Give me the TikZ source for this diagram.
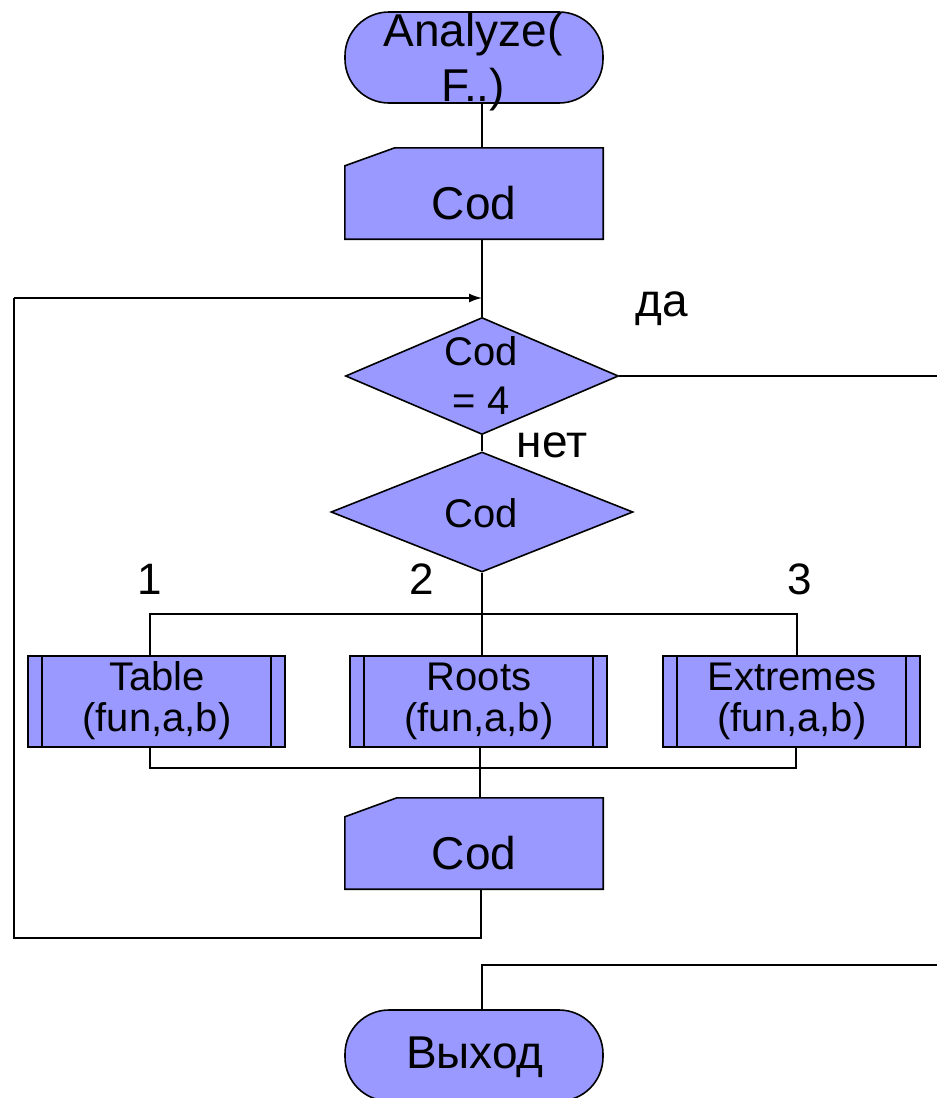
\documentclass[tikz,border=0pt]{standalone}
\usepackage{fontspec}
\setmainfont{Liberation Sans}
\usetikzlibrary{shapes.geometric,calc,arrows.meta}
\definecolor{boxfill}{RGB}{153,153,255}
\begin{document}
\begin{tikzpicture}[x=1pt,y=-1pt,
  shp/.style={draw=black,fill=boxfill,line width=1.6pt,inner sep=0pt},
  conn/.style={draw=black,line width=1.6pt},
  edge/.style={draw=black,line width=1.6pt},
  lbl/.style={inner sep=0pt,align=center},
  fbig/.style={font=\fontsize{46}{55}\selectfont},
  fmid/.style={font=\fontsize{40}{41}\selectfont},
  fdia/.style={font=\fontsize{40}{49}\selectfont},
  flab/.style={font=\fontsize{46}{50}\selectfont},
  fnum/.style={font=\fontsize{44}{50}\selectfont},
  term/.style={shp,rectangle,rounded corners=44pt,minimum width=258pt,minimum height=91pt},
  cardbox/.style={rectangle,inner sep=0pt,minimum width=258pt,minimum height=91pt},
  procbox/.style={shp,rectangle,minimum width=257pt,minimum height=91pt},
  arr/.style={conn,-{Latex[length=13pt,width=9pt]}}
]
\useasboundingbox (0,0) rectangle (937,1098);

% start terminal
\node[term] (start) at (474,57.5) {};
\node[lbl,fbig] (starttxt) at (473,62) {Analyze(\\F..)};

% input card 1
\node[cardbox] (card1) at (474,193.5) {};
\draw[shp] ($(card1.north west)+(0,18)$) -- ($(card1.north west)+(50,0)$) -- (card1.north east) -- (card1.south east) -- (card1.south west) -- cycle;
\node[lbl,fbig] (card1txt) at (474,203) {Cod};

% decision 1
\node[shp,diamond,minimum width=273pt,minimum height=117pt] (d1) at (482,376) {};
\node[lbl,fdia] (d1txt) at (481,376) {Cod\\= 4};

% decision 2
\node[shp,diamond,minimum width=302pt,minimum height=120pt] (d2) at (482,512) {};
\node[lbl,fdia] (d2txt) at (481,513) {Cod};

% process boxes
\node[procbox] (tbl) at (156.5,701.5) {};
\node[procbox] (roots) at (478.5,701.5) {};
\node[procbox] (ext) at (791.5,701.5) {};
\foreach \b in {tbl,roots,ext}{
  \draw[edge] ($(\b.north west)+(15,0)$) -- ($(\b.south west)+(15,0)$);
  \draw[edge] ($(\b.north east)+(-15,0)$) -- ($(\b.south east)+(-15,0)$);
}
\node[lbl,fmid] (tbltxt) at (157,701) {Table\\(fun,a,b)};
\node[lbl,fmid] (rootstxt) at (479,701) {Roots\\(fun,a,b)};
\node[lbl,fmid] (exttxt) at (792,701) {Extremes\\(fun,a,b)};

% input card 2
\node[cardbox] (card2) at (474,843.5) {};
\draw[shp] ($(card2.north west)+(0,19)$) -- ($(card2.north west)+(52,0)$) -- (card2.north east) -- (card2.south east) -- (card2.south west) -- cycle;
\node[lbl,fbig] (card2txt) at (474,853) {Cod};

% exit terminal
\node[term] (exit) at (474,1055.5) {};
\node[lbl,fbig] (exittxt) at (475,1057) {Выход};

% labels
\node[lbl,flab] (yes) at (662,309) {да};
\node[lbl,flab] (no) at (552,445) {нет};
\node[lbl,fnum] (n1) at (150,579) {1};
\node[lbl,fnum] (n2) at (422,579) {2};
\node[lbl,fnum] (n3) at (800,579) {3};

% coordinates
\coordinate (yesend) at (937,376);
\coordinate (b1) at (150,614);
\coordinate (b3) at (797,614);
\coordinate (c1) at (150,768);
\coordinate (c3) at (796,768);
\coordinate (cm) at (480,768);
\coordinate (loopbr) at (481,938);
\coordinate (loopbl) at (14,938);
\coordinate (looptl) at (14,298);
\coordinate (loopin) at (482,298);
\coordinate (exr) at (937,965);
\coordinate (exl) at (482,965);

% connectors
\draw[conn] (start.south -| d1.north) -- (card1.north -| d1.north);
\draw[conn] (card1.south -| d1.north) -- (d1.north);
\draw[conn] (d1.south) -- (d2.north);
\draw[conn] (d1.east) -- (yesend);
\draw[conn] (d2.south) -- (roots.north -| d2.south);
\draw[conn] (tbl.north -| b1) -- (b1) -- (b3) -- (ext.north -| b3);
\draw[conn] (tbl.south -| c1) -- (c1) -- (c3) -- (ext.south -| c3);
\draw[conn] (roots.south -| cm) -- (card2.north -| cm);
\draw[conn] (card2.south -| loopbr) -- (loopbr) -- (loopbl) -- (looptl);
\draw[arr] (looptl) -- (loopin);
\draw[conn] (yesend |- exr) -- (exl) -- (exit.north -| exl);
\end{tikzpicture}
\end{document}
